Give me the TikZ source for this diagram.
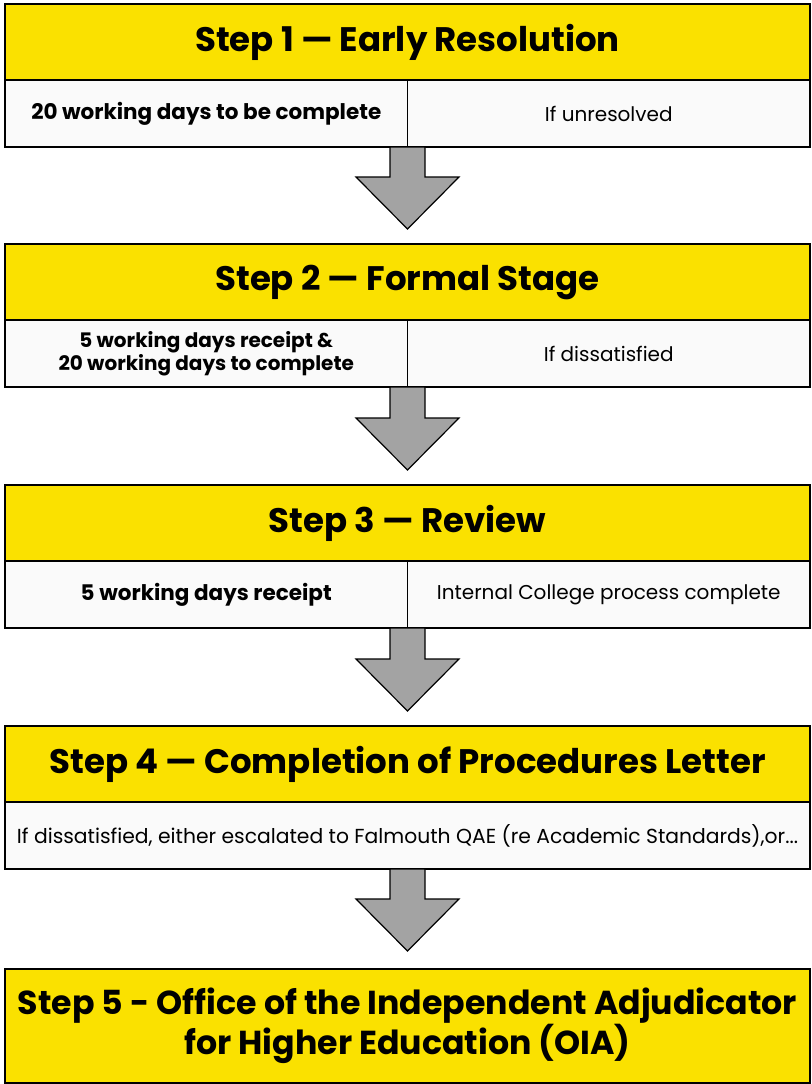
\documentclass[tikz,border=0pt]{standalone}
\usepackage{fontspec}
\setmainfont{Poppins}
\usepackage{tikz}
\usetikzlibrary{positioning,calc}
\usepackage{xcolor}
\definecolor{stepyellow}{RGB}{250,225,0}
\definecolor{cellwhite}{RGB}{250,250,250}
\definecolor{arrowgrey}{RGB}{163,163,163}
\tikzstyle{stephead} = [rectangle, draw=black, fill=stepyellow, line width=1.2pt, minimum width=805pt, minimum height=76pt, inner sep=0pt, outer sep=0pt, align=center, font=\bfseries\fontsize{34}{38}\selectfont]
\tikzstyle{stepcell} = [rectangle, draw=black, fill=cellwhite, line width=1.2pt, minimum width=402.5pt, minimum height=67pt, inner sep=0pt, outer sep=0pt, align=center, font=\fontsize{20}{22.5}\selectfont]
\tikzstyle{blockarrow} = [draw=black, fill=arrowgrey, line width=1.2pt, line join=miter]

\begin{document}
\begin{tikzpicture}[x=1pt, y=1pt]
\useasboundingbox (0,0) rectangle (811,-1084);

% Steps as nodes
\node (h1) [stephead] at (407.5,-42) {Step 1 --- Early Resolution};
\node (c1a) [stepcell, below right=0pt and 0pt of h1.south west, font=\bfseries\fontsize{21.5}{24}\selectfont] {20 working days to be complete};
\node (c1b) [stepcell, below left=0pt and 0pt of h1.south east] {If unresolved};

\node (h2) [stephead, below right=97pt and 0pt of c1a.south west] {Step 2 --- Formal Stage};
\node (c2a) [stepcell, below right=0pt and 0pt of h2.south west, font=\bfseries\fontsize{20}{22.5}\selectfont] {5 working days receipt \&\\ 20 working days to complete};
\node (c2b) [stepcell, below left=0pt and 0pt of h2.south east] {If dissatisfied};

\node (h3) [stephead, below right=98pt and 0pt of c2a.south west] {Step 3 --- Review};
\node (c3a) [stepcell, below right=0pt and 0pt of h3.south west, font=\bfseries\fontsize{21.5}{24}\selectfont] {5 working days receipt};
\node (c3b) [stepcell, below left=0pt and 0pt of h3.south east] {Internal College process complete};

\node (h4) [stephead, below right=98pt and 0pt of c3a.south west] {Step 4 --- Completion of Procedures Letter};
\node (c4) [stepcell, below=0pt of h4, minimum width=805pt, font=\fontsize{20.3}{23}\selectfont] {If dissatisfied, either escalated to Falmouth QAE (re Academic Standards),or...};

\node (h5) [stephead, below=100pt of c4, minimum height=114pt, font=\bfseries\fontsize{33.2}{38.5}\selectfont] {Step 5 - Office of the Independent Adjudicator\\ for Higher Education (OIA)};

% Arrows
\draw[blockarrow] let \p1=(c1a.south east), \p2=(h2.north) in (\x1-17.5pt,\y1) -- (\x1-17.5pt,\y2+67pt) -- (\x1-51.5pt,\y2+67pt) -- (\x1,\y2+15pt) -- (\x1+51.5pt,\y2+67pt) -- (\x1+17.5pt,\y2+67pt) -- (\x1+17.5pt,\y1) -- cycle;
\draw[blockarrow] let \p1=(c2a.south east), \p2=(h3.north) in (\x1-17.5pt,\y1) -- (\x1-17.5pt,\y2+67pt) -- (\x1-51.5pt,\y2+67pt) -- (\x1,\y2+15pt) -- (\x1+51.5pt,\y2+67pt) -- (\x1+17.5pt,\y2+67pt) -- (\x1+17.5pt,\y1) -- cycle;
\draw[blockarrow] let \p1=(c3a.south east), \p2=(h4.north) in (\x1-17.5pt,\y1) -- (\x1-17.5pt,\y2+67pt) -- (\x1-51.5pt,\y2+67pt) -- (\x1,\y2+15pt) -- (\x1+51.5pt,\y2+67pt) -- (\x1+17.5pt,\y2+67pt) -- (\x1+17.5pt,\y1) -- cycle;
\draw[blockarrow] let \p1=(c4.south), \p2=(h5.north) in (\x1-17.5pt,\y1) -- (\x1-17.5pt,\y2+70pt) -- (\x1-51.5pt,\y2+70pt) -- (\x1,\y2+18pt) -- (\x1+51.5pt,\y2+70pt) -- (\x1+17.5pt,\y2+70pt) -- (\x1+17.5pt,\y1) -- cycle;
\end{tikzpicture}
\end{document}
